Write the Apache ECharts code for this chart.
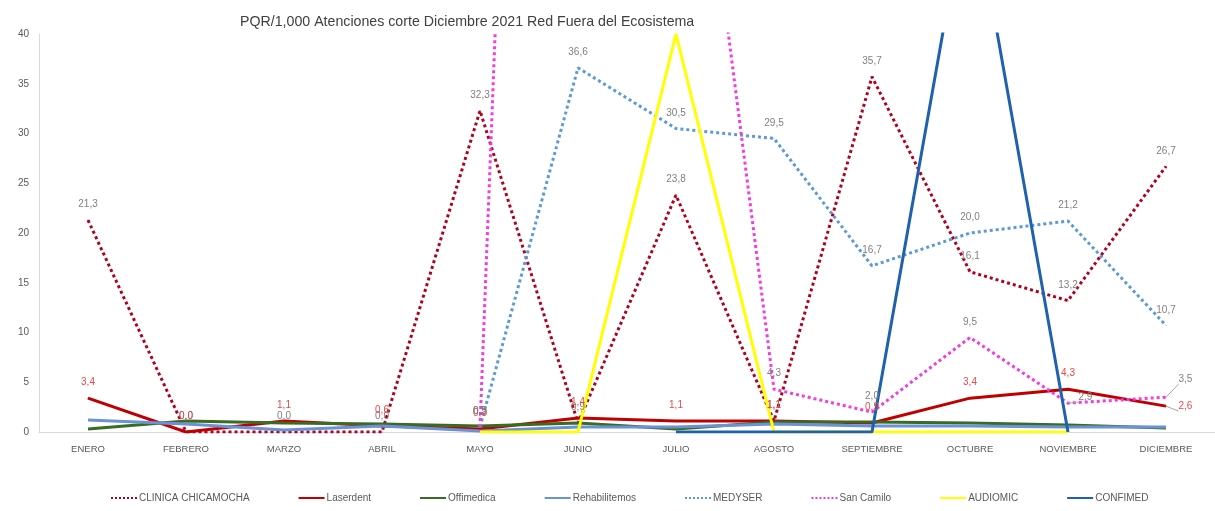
<!DOCTYPE html>
<html>
<head>
<meta charset="utf-8">
<script src="https://cdn.jsdelivr.net/npm/echarts@6/dist/echarts.min.js"></script>
<style>
  html, body { margin: 0; padding: 0; background: #fff; }
  #myChart { width: 1215px; height: 511px; }
</style>
</head>
<body>
<div id="myChart"></div>
<script>
  // datos
  let meses = ['ENERO','FEBRERO','MARZO','ABRIL','MAYO','JUNIO','JULIO','AGOSTO','SEPTIEMBRE','OCTUBRE','NOVIEMBRE','DICIEMBRE'];
  let clinicaChicamocha = [21.3, 0.0, 0.0, 0.0, 32.3, 0.9, 23.8, 1.1, 35.7, 16.1, 13.2, 26.7];
  let laserdent = [3.4, 0.0, 1.1, 0.6, 0.3, 1.4, 1.1, 1.1, 0.9, 3.4, 4.3, 2.6];
  let offimedica = [0.3, 1.1, 0.9, 0.8, 0.6, 0.9, 0.3, 1.0, 1.0, 0.9, 0.7, 0.4];
  let rehabilitemos = [1.2, 0.8, 0.2, 0.6, 0.1, 0.5, 0.5, 0.8, 0.6, 0.6, 0.5, 0.5];
  let medyser = [null, null, null, null, 0.5, 36.6, 30.5, 29.5, 16.7, 20.0, 21.2, 10.7];
  let sanCamilo = [null, null, null, null, 0.5, 257, 81, 4.3, 2.0, 9.5, 2.9, 3.5];
  let audiomic = [null, null, null, null, 0, 0, 40, 0, 0, 0, 0, null];
  let confimed = [null, null, null, null, null, null, 0, 0, 0, 55.5, 0, null];
  let yTicks = [0, 5, 10, 15, 20, 25, 30, 35, 40];

  let fuente = '"Liberation Sans", Arial, sans-serif';
  let gris = '#7F7F7F';

  function fmt(p){
    if (p.value == null || p.value > 40) return '';
    return p.value.toFixed(1).replace('.', ',');
  }

  function linea(nombre, datos, color, ancho, punteada, etiqueta, ajustes){
    return {
      name: nombre,
      type: 'line',
      symbol: 'circle',
      symbolSize: 1,
      showSymbol: !!etiqueta,
      showAllSymbol: true,
      clip: true,
      data: datos.map((v, i) => {
        let d = { value: v };
        if (ajustes && ajustes[i]) {
          d.label = ajustes[i];
          d.labelLine = { show: true, length2: 0, lineStyle: { color: '#A6A6A6', width: 1 } };
        }
        return d;
      }),
      lineStyle: {
        color: color,
        width: ancho,
        type: punteada ? 'dotted' : 'solid'
      },
      itemStyle: { color: color },
      label: {
        show: !!etiqueta,
        position: 'top',
        distance: 10,
        color: etiqueta || gris,
        fontSize: 10,
        fontFamily: fuente,
        formatter: fmt
      }
    };
  }

  let myChart = echarts.init(document.getElementById('myChart'));
  myChart.setOption({
    animation: false,
    title: {
      text: 'PQR/1,000 Atenciones corte Diciembre 2021 Red Fuera del Ecosistema',
      left: 235,
      top: 10,
      textStyle: { fontSize: 14.2, fontWeight: 'normal', color: '#404040', fontFamily: fuente }
    },
    grid: { left: 39, top: 34, width: 1188, height: 398 },
    legend: {
      bottom: 3,
      left: 105,
      itemWidth: 26,
      itemHeight: 10,
      itemGap: 48,
      itemStyle: { opacity: 0 },
      textStyle: { fontSize: 10, color: '#595959', fontFamily: fuente, padding: [0, 0, 0, -3] },
      data: ['CLINICA CHICAMOCHA','Laserdent','Offimedica','Rehabilitemos','MEDYSER','San Camilo','AUDIOMIC','CONFIMED']
    },
    xAxis: {
      type: 'category',
      boundaryGap: true,
      data: meses,
      axisLine: { lineStyle: { color: '#D9D9D9' } },
      axisTick: { show: false },
      axisLabel: { color: '#595959', fontSize: 9.5, fontFamily: fuente, margin: 12 }
    },
    yAxis: {
      type: 'value',
      min: yTicks[0],
      max: yTicks[yTicks.length - 1],
      interval: 5,
      axisLine: { show: true, lineStyle: { color: '#D9D9D9' } },
      axisTick: { show: false },
      splitLine: { show: false },
      axisLabel: { color: '#595959', fontSize: 10, fontFamily: fuente, margin: 10 }
    },
    series: [
      linea('CLINICA CHICAMOCHA', clinicaChicamocha, '#B0001E', 3, true, gris),
      linea('Laserdent', laserdent, '#C00000', 3, false, '#E8494B', {
        11: { position: 'right', distance: 12 }
      }),
      linea('Offimedica', offimedica, '#3A6B22', 3, false, null),
      linea('Rehabilitemos', rehabilitemos, '#6A92D6', 3, false, null),
      linea('MEDYSER', medyser, '#5B9BD5', 3, true, gris),
      linea('San Camilo', sanCamilo, '#F03CE0', 3, true, gris, {
        10: { position: 'right', distance: 10, offset: [0, -6] },
        11: { position: 'right', distance: 12, offset: [0, -18] }
      }),
      linea('AUDIOMIC', audiomic, '#FFFF00', 3, false, null),
      linea('CONFIMED', confimed, '#1F62AC', 3, false, null)
    ]
  });
</script>
</body>
</html>
